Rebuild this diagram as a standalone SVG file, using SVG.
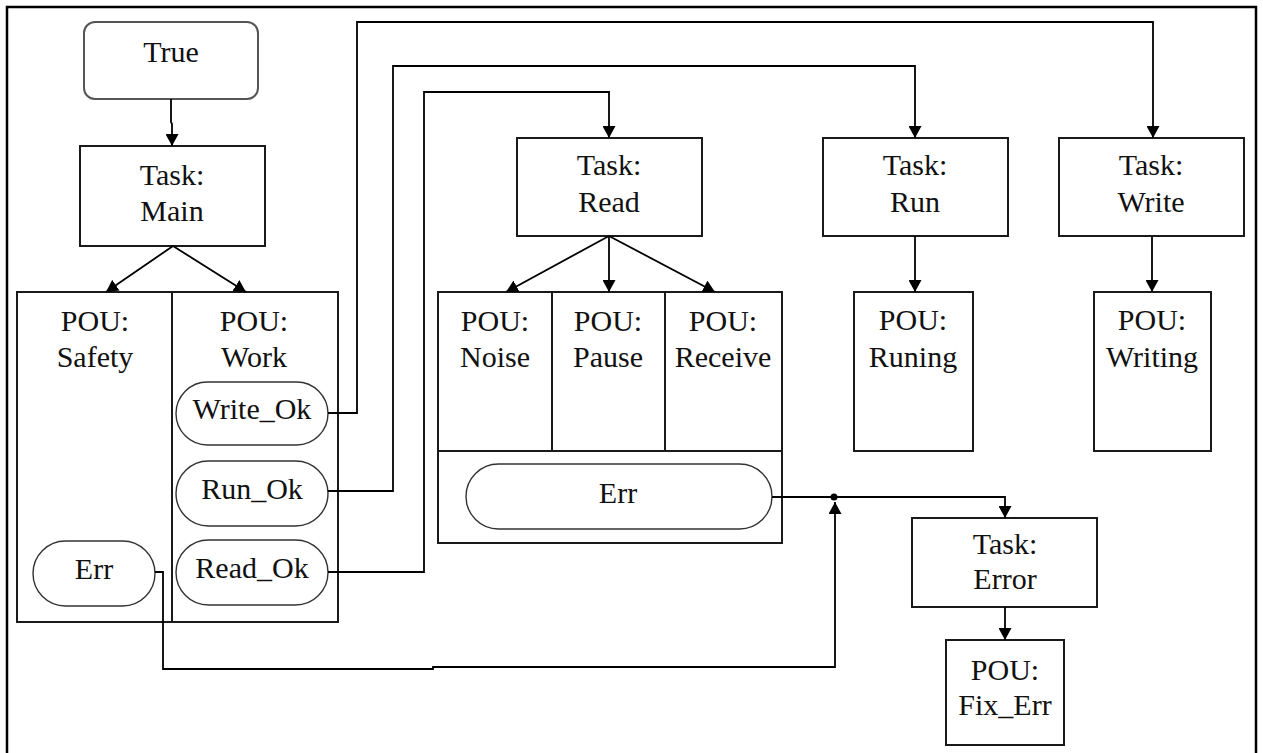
<svg xmlns="http://www.w3.org/2000/svg" width="1263" height="753" viewBox="0 0 1263 753" font-family="Liberation Serif, Times New Roman, serif">
<defs>
<marker id="arr" markerWidth="13" markerHeight="13" refX="12" refY="6.5" orient="auto" markerUnits="userSpaceOnUse">
<path d="M0,0 L12,6.5 L0,13 z" fill="#000"/>
</marker>
<style>
.box{fill:#fff;stroke:#1a1a1a;stroke-width:2}
.oval{fill:#fff;stroke:#333;stroke-width:1.4}
.t{font-family:'Liberation Serif','Times New Roman',serif;font-size:30px;fill:#111;text-anchor:middle}
.ca{fill:none;stroke:#000;stroke-width:1.8;marker-end:url(#arr)}
</style>
</defs>
<rect x="0" y="0" width="1263" height="753" fill="#fff"/>
<rect x="7" y="7" width="1249" height="760" fill="none" stroke="#000" stroke-width="2.5"/>

<g id="true">
<rect x="84" y="22" width="174" height="77" rx="11" fill="#fff" stroke="#555" stroke-width="2"/>
<text class="t" x="171" y="62">True</text>
</g>

<g id="task-main">
<rect class="box" x="80" y="146" width="185" height="100"/>
<text class="t" x="172" y="185">Task:</text>
<text class="t" x="172" y="221">Main</text>
</g>

<g id="pou-safety-work">
<rect class="box" x="17" y="292" width="321" height="330"/>
<line x1="172" y1="292" x2="172" y2="622" stroke="#1a1a1a" stroke-width="2"/>
<text class="t" x="95" y="331">POU:</text>
<text class="t" x="95" y="367">Safety</text>
<text class="t" x="254" y="331">POU:</text>
<text class="t" x="254" y="367">Work</text>
</g>

<g id="safety-err">
<rect class="oval" x="33" y="541" width="122" height="65" rx="32.5"/>
<text class="t" x="94" y="579">Err</text>
</g>
<g id="write-ok">
<rect class="oval" x="176" y="382" width="152" height="63" rx="31.5"/>
<text class="t" x="252" y="419">Write_Ok</text>
</g>
<g id="run-ok">
<rect class="oval" x="176" y="461" width="152" height="65" rx="32.5"/>
<text class="t" x="252" y="499">Run_Ok</text>
</g>
<g id="read-ok">
<rect class="oval" x="176" y="540" width="152" height="65" rx="32.5"/>
<text class="t" x="252" y="578">Read_Ok</text>
</g>

<g id="task-read">
<rect class="box" x="517" y="138" width="185" height="98"/>
<text class="t" x="609" y="175">Task:</text>
<text class="t" x="609" y="212">Read</text>
</g>

<g id="pou-read-group">
<rect class="box" x="438" y="292" width="344" height="251"/>
<line x1="552" y1="292" x2="552" y2="451" stroke="#1a1a1a" stroke-width="2"/>
<line x1="665" y1="292" x2="665" y2="451" stroke="#1a1a1a" stroke-width="2"/>
<line x1="438" y1="451" x2="782" y2="451" stroke="#1a1a1a" stroke-width="2"/>
<text class="t" x="495" y="331">POU:</text>
<text class="t" x="495" y="367">Noise</text>
<text class="t" x="608" y="331">POU:</text>
<text class="t" x="608" y="367">Pause</text>
<text class="t" x="723" y="331">POU:</text>
<text class="t" x="723" y="367">Receive</text>
</g>
<g id="read-err">
<rect class="oval" x="466" y="464" width="306" height="65" rx="32.5"/>
<text class="t" x="618" y="503">Err</text>
</g>

<g id="task-run">
<rect class="box" x="823" y="138" width="185" height="98"/>
<text class="t" x="915" y="175">Task:</text>
<text class="t" x="915" y="212">Run</text>
</g>
<g id="pou-runing">
<rect class="box" x="854" y="292" width="119" height="159"/>
<text class="t" x="913" y="330">POU:</text>
<text class="t" x="913" y="367">Runing</text>
</g>

<g id="task-write">
<rect class="box" x="1059" y="138" width="185" height="98"/>
<text class="t" x="1151" y="175">Task:</text>
<text class="t" x="1151" y="212">Write</text>
</g>
<g id="pou-writing">
<rect class="box" x="1094" y="292" width="117" height="159"/>
<text class="t" x="1152" y="330">POU:</text>
<text class="t" x="1152" y="367">Writing</text>
</g>

<g id="task-error">
<rect class="box" x="912" y="518" width="185" height="89"/>
<text class="t" x="1005" y="554">Task:</text>
<text class="t" x="1005" y="589">Error</text>
</g>
<g id="pou-fixerr">
<rect class="box" x="946" y="640" width="118" height="105"/>
<text class="t" x="1005" y="680">POU:</text>
<text class="t" x="1005" y="715">Fix_Err</text>
</g>

<g id="connectors">
<path class="ca" d="M171,99 L171,122 L172,124 L172,146"/>
<path class="ca" d="M173,246 L106,292"/>
<path class="ca" d="M173,246 L246,292"/>
<path class="ca" d="M609,236 L506,292"/>
<path class="ca" d="M609,236 L609,292"/>
<path class="ca" d="M609,236 L715,292"/>
<path class="ca" d="M915,236 L915,292"/>
<path class="ca" d="M1152,236 L1152,292"/>
<path class="ca" d="M1005,607 L1005,640"/>
<path class="ca" d="M328,413 L357,413 L357,22 L1153,22 L1153,138"/>
<path class="ca" d="M328,491 L393,491 L393,66 L915,66 L915,138"/>
<path class="ca" d="M328,572 L424,572 L424,92 L609,92 L609,138"/>
<path class="ca" d="M772,497 L1005,497 L1005,518"/>
<path class="ca" d="M155,572 L163,572 L163,669 L433,669 L433,667 L835,667 L835,502"/>
<circle cx="834" cy="497" r="3.5" fill="#000"/>
</g>
</svg>
